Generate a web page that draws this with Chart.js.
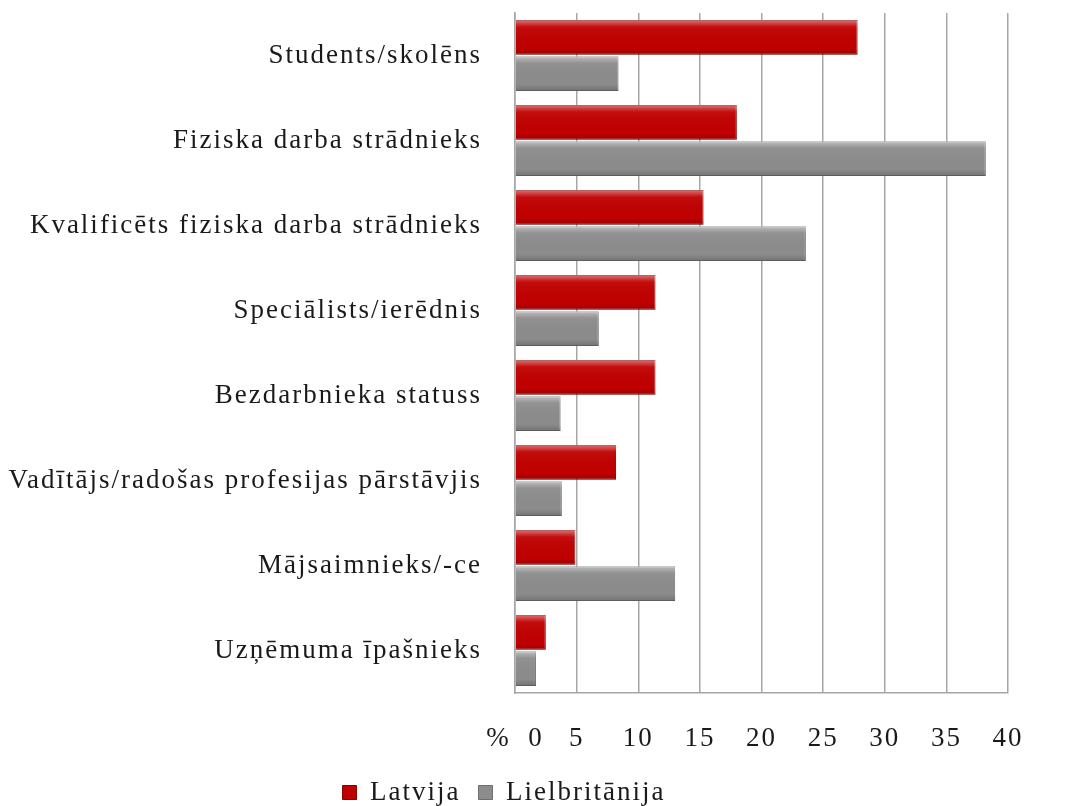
<!DOCTYPE html>
<html>
<head>
<meta charset="utf-8">
<script src="https://cdn.jsdelivr.net/npm/chart.js@4"></script>
<style>
  html, body { margin: 0; padding: 0; background: #fff; }
  #wrap { width: 1077px; height: 806px; }
</style>
</head>
<body>
<div id="wrap"><canvas id="myChart"></canvas></div>
<script>
const CATEGORIES = ["Students/skolēns", "Fiziska darba strādnieks", "Kvalificēts fiziska darba strādnieks", "Speciālists/ierēdnis", "Bezdarbnieka statuss", "Vadītājs/radošas profesijas pārstāvjis", "Mājsaimnieks/-ce", "Uzņēmuma īpašnieks"];
const LATVIJA = [27.8, 18.0, 15.3, 11.4, 11.4, 8.2, 4.9, 2.5];
const LIELBRITANIJA = [8.4, 38.2, 23.6, 6.8, 3.7, 3.8, 13.0, 1.7];
const SERIES_NAMES = ["Latvija", "Lielbritānija"];
const X_MIN = 0, X_MAX = 40, X_STEP = 5;

const FONT = "'Liberation Serif', 'Times New Roman', serif";
const SPACING = '2px';

// the source text is drawn wide, so space the letters out a bit
const spacingPlugin = {
    id: 'spacing',
    beforeUpdate(chart) { chart.ctx.letterSpacing = SPACING; },
    beforeLayout(chart) { chart.ctx.letterSpacing = SPACING; },
    beforeDraw(chart) { chart.ctx.letterSpacing = SPACING; }
};

// glossy bevel over each bar, like the office 3D style
const bevelPlugin = {
    id: 'bevel',
    afterDatasetsDraw(chart) {
        const ctx = chart.ctx;
        chart.data.datasets.forEach(function (_ds, i) {
            const meta = chart.getDatasetMeta(i);
            meta.data.forEach(function (bar) {
                const top = bar.y - bar.height / 2;
                const bottom = bar.y + bar.height / 2;
                const left = Math.min(bar.base, bar.x);
                const right = Math.max(bar.base, bar.x);
                const g = ctx.createLinearGradient(0, top, 0, bottom);
                g.addColorStop(0, 'rgba(255,255,255,0.45)');
                g.addColorStop(0.2, 'rgba(255,255,255,0.05)');
                g.addColorStop(0.8, 'rgba(0,0,0,0.0)');
                g.addColorStop(1, 'rgba(0,0,0,0.18)');
                ctx.save();
                ctx.fillStyle = g;
                ctx.fillRect(left, top, right - left, bottom - top);
                ctx.restore();
            });
        });
    }
};

const ctx1 = document.getElementById('myChart');
const myChart = new Chart(ctx1, {
    type: 'bar',
    data: {
        labels: CATEGORIES,
        datasets: [{
            label: SERIES_NAMES[0],
            data: LATVIJA,
            backgroundColor: '#c00000',
            borderColor: '#8a0000',
            borderWidth: 1,
            categoryPercentage: 0.85,
            barPercentage: 0.96
        }, {
            label: SERIES_NAMES[1],
            data: LIELBRITANIJA,
            backgroundColor: '#8c8c8c',
            borderColor: '#6e6e6e',
            borderWidth: 1,
            categoryPercentage: 0.85,
            barPercentage: 0.96
        }]
    },
    options: {
        indexAxis: 'y',
        responsive: true,
        maintainAspectRatio: false,
        animation: false,
        layout: { padding: { top: 13, right: 69, left: 0, bottom: -10 } },
        plugins: {
            legend: {
                position: 'bottom',
                labels: {
                    font: { family: FONT, size: 27 },
                    color: '#1a1a1a',
                    boxWidth: 14,
                    boxHeight: 14,
                    padding: 18
                }
            },
            tooltip: { enabled: false }
        },
        scales: {
            x: {
                min: X_MIN,
                max: X_MAX,
                ticks: {
                    stepSize: X_STEP,
                    padding: 30,
                    maxRotation: 0,
                    minRotation: 0,
                    autoSkip: false,
                    color: '#1a1a1a',
                    font: { family: FONT, size: 27 },
                    callback: function (value) {
                        return value === 0 ? '%  0' : value;
                    }
                },
                grid: { color: '#a6a6a6', drawTicks: false, lineWidth: 1.5 },
                border: { color: '#a6a6a6', width: 1.5 },
                afterFit: function (scale) { scale.height = 68; }
            },
            y: {
                ticks: {
                    color: '#1a1a1a',
                    font: { family: FONT, size: 27 },
                    padding: 25
                },
                grid: { display: false },
                border: { color: '#a6a6a6', width: 1.5 },
                afterFit: function (scale) {
                    scale.width = 515;
                    scale.paddingTop = 0;
                    scale.paddingBottom = 0;
                }
            }
        }
    },
    plugins: [spacingPlugin, bevelPlugin]
});
</script>
</body>
</html>
